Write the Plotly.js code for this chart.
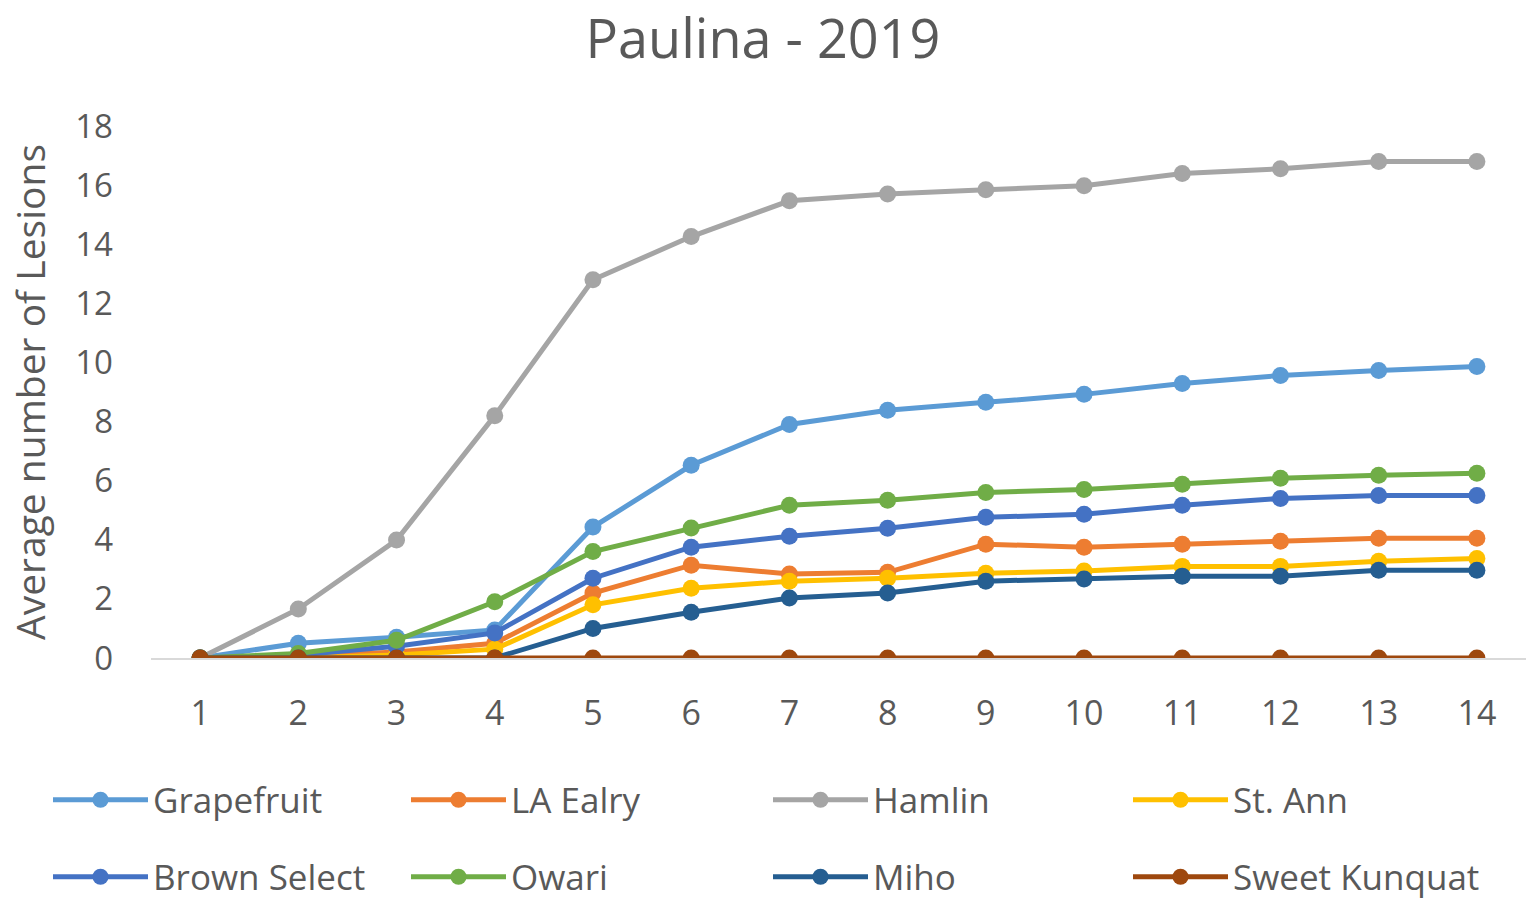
<!DOCTYPE html>
<html>
<head>
<meta charset="utf-8">
<script src="https://cdn.plot.ly/plotly-3.0.1.min.js"></script>
<style>html,body{margin:0;padding:0;background:#fff;}#chart{width:1526px;height:900px;}</style>
</head>
<body>
<div id="chart"></div>
<script>
const weeks = ['1','2','3','4','5','6','7','8','9','10','11','12','13','14'];
const seriesNames = ['Grapefruit','LA Ealry','Hamlin','St. Ann','Brown Select','Owari','Miho','Sweet Kunquat'];
const seriesColors = ['#5B9BD5','#ED7D31','#A5A5A5','#FFC000','#4472C4','#70AD47','#255E91','#9E480E'];
const grapefruit   = [0, 0.5, 0.7, 0.95, 4.43, 6.52, 7.9, 8.38, 8.65, 8.92, 9.29, 9.56, 9.73, 9.86];
const laEalry      = [0, 0.05, 0.2, 0.5, 2.2, 3.14, 2.84, 2.9, 3.85, 3.75, 3.85, 3.95, 4.05, 4.05];
const hamlin       = [0, 1.66, 3.99, 8.2, 12.8, 14.26, 15.47, 15.7, 15.84, 15.98, 16.39, 16.55, 16.8, 16.8];
const stAnn        = [0, 0, 0.1, 0.3, 1.8, 2.36, 2.6, 2.7, 2.87, 2.94, 3.1, 3.1, 3.27, 3.37];
const brownSelect  = [0, 0.1, 0.4, 0.85, 2.7, 3.75, 4.12, 4.39, 4.76, 4.86, 5.17, 5.4, 5.5, 5.5];
const owari        = [0, 0.15, 0.6, 1.9, 3.6, 4.4, 5.17, 5.34, 5.6, 5.7, 5.88, 6.08, 6.18, 6.25];
const miho         = [0, 0, 0, 0, 1.0, 1.55, 2.03, 2.2, 2.6, 2.67, 2.77, 2.77, 2.97, 2.97];
const sweetKunquat = [0, 0, 0, 0, 0, 0, 0, 0, 0, 0, 0, 0, 0, 0];
const seriesValues = [grapefruit, laEalry, hamlin, stAnn, brownSelect, owari, miho, sweetKunquat];
const yTicks = [0,2,4,6,8,10,12,14,16,18];

const FONT = 'Open Sans, Noto Sans, sans-serif';
const GREY = '#595959';

const legendIds = ['legend','legend2','legend3','legend4','legend5','legend6','legend7','legend8'];
const legendCols = [48, 406, 768, 1128];
const legendRows = [800, 877];

const traces = seriesNames.map((name, i) => ({
  type: 'scatter', mode: 'lines+markers', name: name,
  x: weeks, y: seriesValues[i],
  line: {color: seriesColors[i], width: 5},
  marker: {color: seriesColors[i], size: 17},
  legend: legendIds[i]
}));

const layout = {
  width: 1526, height: 900,
  paper_bgcolor: '#fff', plot_bgcolor: '#fff',
  margin: {l: 151, r: 0, t: 126, b: 242},
  title: {text: 'Paulina - 2019', x: 0.5, xref: 'container', y: 1 - 39/900, yref: 'container', yanchor: 'middle',
          font: {family: FONT, size: 54, color: GREY}},
  xaxis: {type: 'category', categoryorder: 'array', categoryarray: weeks, range: [-0.5, 13.5],
          showgrid: false, zeroline: false, showline: true, linecolor: '#D9D9D9', linewidth: 2,
          ticks: '', ticklabelstandoff: 24,
          tickfont: {family: FONT, size: 34, color: GREY}, fixedrange: true},
  yaxis: {range: [0, 18], tickvals: yTicks, ticktext: yTicks.map(v => '\u00a0\u00a0' + v),
          showgrid: false, zeroline: false, showline: false, ticks: '',
          ticklabelstandoff: 37,
          tickfont: {family: FONT, size: 33, color: GREY},
          title: {text: 'Average number of Lesions', font: {family: FONT, size: 39, color: GREY}, standoff: 0},
          fixedrange: true},
  showlegend: true
};

legendIds.forEach((id, i) => {
  layout[id] = {
    orientation: 'h', xref: 'container', yref: 'container',
    xanchor: 'left', yanchor: 'middle',
    x: legendCols[i % 4] / 1526, y: 1 - legendRows[Math.floor(i / 4)] / 900,
    itemwidth: 95,
    font: {family: FONT, size: 35, color: GREY},
    bgcolor: 'rgba(0,0,0,0)'
  };
});

Plotly.newPlot('chart', traces, layout, {displayModeBar: false, staticPlot: true});
</script>
</body>
</html>
